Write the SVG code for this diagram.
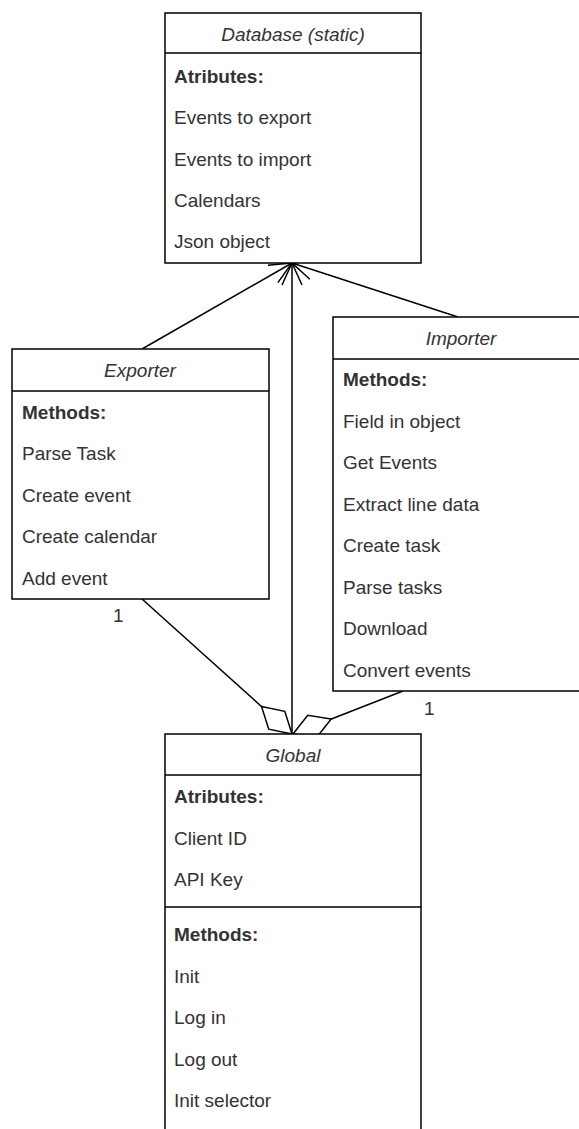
<svg xmlns="http://www.w3.org/2000/svg" width="579" height="1129" viewBox="0 0 579 1129">
<style>
.box{fill:#fff;stroke:#000;stroke-width:1.5}
.t{font-family:"Liberation Sans",Arial,sans-serif;font-size:19px;fill:#333}
.h{font-style:italic;text-anchor:middle}
.b{font-weight:bold}
.ln{fill:none;stroke:#000;stroke-width:1.5}
</style>
<defs>
<marker id="open" markerUnits="userSpaceOnUse" viewBox="-30 -15 35 30" refX="0" refY="0" markerWidth="35" markerHeight="30" orient="auto" overflow="visible">
<path d="M-22,-10 L0,0 L-22,10" fill="none" stroke="#000" stroke-width="1.5"/>
</marker>
<marker id="diamond" markerUnits="userSpaceOnUse" viewBox="-45 -15 50 30" refX="0" refY="0" markerWidth="50" markerHeight="30" orient="auto" overflow="visible">
<path d="M0,0 L-20.5,-12 L-41,0 L-20.5,12 Z" fill="#fff" stroke="#000" stroke-width="1.5"/>
</marker>
</defs>
<g id="connectors">
<line class="ln" x1="142" y1="349" x2="292" y2="263" marker-end="url(#open)"/>
<line class="ln" x1="458" y1="317" x2="292" y2="263" marker-end="url(#open)"/>
<line class="ln" x1="292" y1="734" x2="292" y2="263" marker-end="url(#open)"/>
<line class="ln" x1="142" y1="599" x2="292" y2="734" marker-end="url(#diamond)"/>
<line class="ln" x1="403" y1="691" x2="293" y2="734" marker-end="url(#diamond)"/>
<text class="t" x="113" y="622">1</text>
<text class="t" x="424" y="715">1</text>
</g>
<g id="database">
<rect class="box" x="165" y="13" width="256" height="250"/>
<line class="ln" x1="165" y1="53" x2="421" y2="53"/>
<text class="t h" x="293" y="41">Database (static)</text>
<text class="t b" x="174" y="83">Atributes:</text>
<text class="t" x="174" y="124">Events to export</text>
<text class="t" x="174" y="166">Events to import</text>
<text class="t" x="174" y="207">Calendars</text>
<text class="t" x="174" y="248">Json object</text>
</g>
<g id="exporter">
<rect class="box" x="12" y="349" width="257" height="250"/>
<line class="ln" x1="12" y1="391" x2="269" y2="391"/>
<text class="t h" x="140" y="377">Exporter</text>
<text class="t b" x="22" y="419">Methods:</text>
<text class="t" x="22" y="460">Parse Task</text>
<text class="t" x="22" y="502">Create event</text>
<text class="t" x="22" y="543">Create calendar</text>
<text class="t" x="22" y="585">Add event</text>
</g>
<g id="importer">
<rect class="box" x="333" y="317" width="256" height="374"/>
<line class="ln" x1="333" y1="359" x2="589" y2="359"/>
<text class="t h" x="461" y="345">Importer</text>
<text class="t b" x="343" y="386">Methods:</text>
<text class="t" x="343" y="428">Field in object</text>
<text class="t" x="343" y="469">Get Events</text>
<text class="t" x="343" y="511">Extract line data</text>
<text class="t" x="343" y="552">Create task</text>
<text class="t" x="343" y="594">Parse tasks</text>
<text class="t" x="343" y="635">Download</text>
<text class="t" x="343" y="677">Convert events</text>
</g>
<g id="global">
<rect class="box" x="165" y="734" width="256" height="420"/>
<line class="ln" x1="165" y1="775" x2="421" y2="775"/>
<line class="ln" x1="165" y1="907" x2="421" y2="907"/>
<text class="t h" x="293" y="762">Global</text>
<text class="t b" x="174" y="803">Atributes:</text>
<text class="t" x="174" y="845">Client ID</text>
<text class="t" x="174" y="886">API Key</text>
<text class="t b" x="174" y="941">Methods:</text>
<text class="t" x="174" y="983">Init</text>
<text class="t" x="174" y="1024">Log in</text>
<text class="t" x="174" y="1066">Log out</text>
<text class="t" x="174" y="1107">Init selector</text>
</g>
</svg>
